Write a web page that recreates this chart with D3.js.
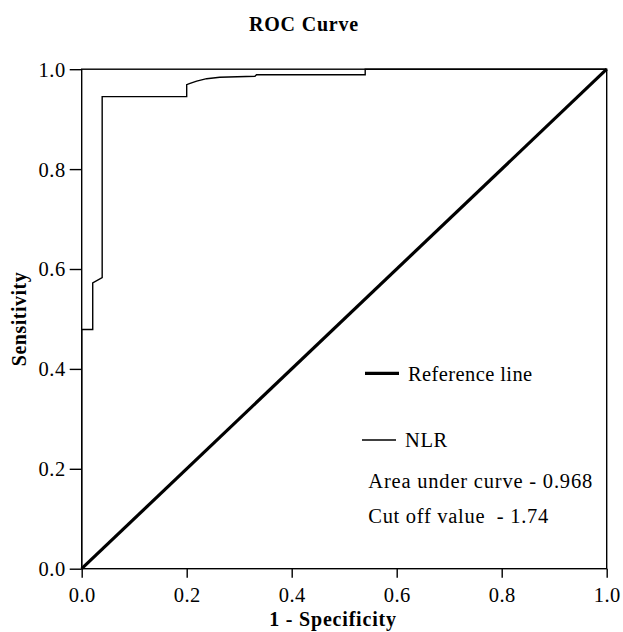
<!DOCTYPE html>
<html>
<head>
<meta charset="utf-8">
<script src="https://cdn.jsdelivr.net/npm/d3@7"></script>
<style>
  html, body { margin: 0; padding: 0; background: #fff; }
  svg { display: block; }
  text { font-family: "Liberation Serif", "Times New Roman", serif; fill: #000; }
</style>
</head>
<body>
<svg id="chart" width="623" height="632"></svg>
<script>
// ROC curve for NLR (1 - specificity, sensitivity)
const fpr = [0.000, 0.000, 0.021, 0.021, 0.039, 0.039, 0.200, 0.200, 0.205, 0.219, 0.238, 0.263, 0.330, 0.333, 0.540, 0.540, 1.000];
const tpr = [0.000, 0.479, 0.479, 0.572, 0.583, 0.945, 0.945, 0.969, 0.971, 0.976, 0.981, 0.984, 0.986, 0.989, 0.989, 1.000, 1.000];
const refX = [0, 1];
const refY = [0, 1];
const xTicks = [0, 0.2, 0.4, 0.6, 0.8, 1.0];
const yTicks = [0, 0.2, 0.4, 0.6, 0.8, 1.0];
const title = "ROC Curve";
const xLabel = "1 - Specificity";
const yLabel = "Sensitivity";
const legendItems = ["Reference line", "NLR"];
const notes = ["Area under curve - 0.968", "Cut off value  - 1.74"];

const svg = d3.select("#chart");
const L = 81.7, R = 606.7, T = 69.2, B = 568.7;
const x = d3.scaleLinear().domain([0, 1]).range([L, R]);
const y = d3.scaleLinear().domain([0, 1]).range([B, T]);

// frame
svg.append("rect").attr("x", L).attr("y", T).attr("width", R - L).attr("height", B - T)
  .attr("fill", "none").attr("stroke", "#000").attr("stroke-width", 1.4);

// axes
const xAxis = svg.append("g").attr("transform", `translate(0,${B})`)
  .call(d3.axisBottom(x).tickValues(xTicks).tickFormat(d3.format(".1f")).tickSize(9).tickPadding(10));
const yAxis = svg.append("g").attr("transform", `translate(${L},0)`)
  .call(d3.axisLeft(y).tickValues(yTicks).tickFormat(d3.format(".1f")).tickSize(12).tickPadding(4));
[xAxis, yAxis].forEach(g => {
  g.select(".domain").remove();
  g.selectAll(".tick line").attr("stroke", "#000").attr("stroke-width", 1.4);
  g.selectAll(".tick text").style("font-family", '"Liberation Serif", serif')
    .style("font-size", "20.5px").style("letter-spacing", "0.5px").attr("fill", "#000");
});
yAxis.selectAll(".tick text").attr("dy", "0.34em");

// reference line
const line = d3.line().x(d => x(d[0])).y(d => y(d[1]));
svg.append("path").datum(refX.map((v, i) => [v, refY[i]]))
  .attr("d", line).attr("fill", "none").attr("stroke", "#000").attr("stroke-width", 3.2);

// ROC curve
svg.append("path").datum(fpr.map((v, i) => [v, tpr[i]]))
  .attr("d", line).attr("fill", "none").attr("stroke", "#000").attr("stroke-width", 1.4)
  .attr("stroke-linejoin", "miter");

// title and labels
svg.append("text").attr("x", 304).attr("y", 30.7).attr("text-anchor", "middle")
  .style("font-size", "20px").style("letter-spacing", "0.8px").style("font-weight", "bold").text(title);
svg.append("text").attr("x", 333).attr("y", 626).attr("text-anchor", "middle")
  .style("font-size", "20px").style("letter-spacing", "0.8px").style("font-weight", "bold").text(xLabel);
svg.append("text").attr("transform", "translate(26,319) rotate(-90)").attr("text-anchor", "middle")
  .style("font-size", "20px").style("letter-spacing", "0.5px").style("font-weight", "bold").text(yLabel);

// legend
svg.append("line").attr("x1", 365).attr("x2", 399).attr("y1", 373.3).attr("y2", 373.3)
  .attr("stroke", "#000").attr("stroke-width", 3.2);
svg.append("text").attr("x", 408).attr("y", 380.5).style("font-size", "20.5px")
  .style("letter-spacing", "0.4px").text(legendItems[0]);
svg.append("line").attr("x1", 362).attr("x2", 396).attr("y1", 440).attr("y2", 440)
  .attr("stroke", "#000").attr("stroke-width", 1.3);
svg.append("text").attr("x", 405).attr("y", 447).style("font-size", "20.5px")
  .style("letter-spacing", "0.6px").text(legendItems[1]);

svg.append("text").attr("x", 368.3).attr("y", 487.7).style("font-size", "20.5px")
  .style("letter-spacing", "0.8px").text(notes[0]);
svg.append("text").attr("x", 368.3).attr("y", 523.3).style("font-size", "20.5px")
  .style("letter-spacing", "0.7px").style("white-space", "pre").text(notes[1]);
</script>
</body>
</html>
